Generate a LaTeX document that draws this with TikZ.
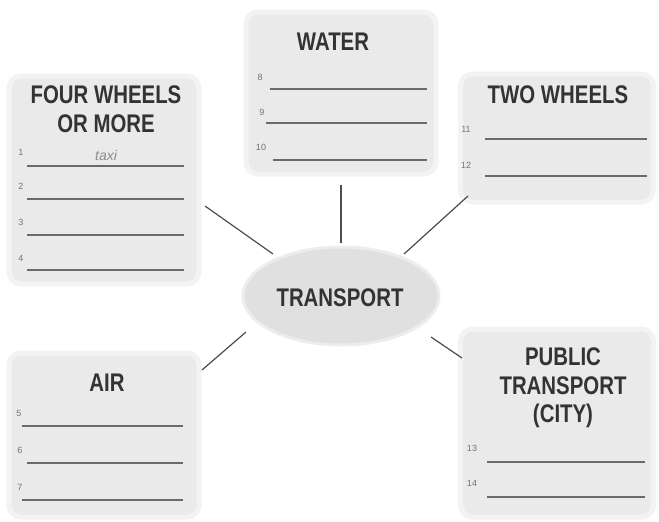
\documentclass[tikz,border=0pt]{standalone}
\usepackage{fontspec}
\setmainfont{Liberation Sans}
\newfontfamily\ttlfont[FakeStretch=0.8]{Liberation Sans}
\usetikzlibrary{shapes.geometric}
\definecolor{boxfill}{HTML}{EAEAEA}
\definecolor{boxedge}{HTML}{F3F3F3}
\definecolor{ink}{HTML}{333333}
\definecolor{ruleink}{HTML}{6A6A6A}
\tikzset{
  box/.style={fill=boxfill, draw=boxedge, line width=5pt, rounded corners=12pt, inner sep=0pt},
  ttl/.style={font=\ttlfont\bfseries\fontsize{25.5}{28.5}\selectfont, text=ink, align=center, inner sep=0pt},
  num/.style={font=\fontsize{9}{10}\selectfont, text=black!55, inner sep=0pt},
  rulel/.style={draw=ruleink, line width=1.1pt},
  conn/.style={draw=black!70, line width=1.2pt},
  hub/.style={ellipse, fill=black!12, draw=black!7, line width=3pt, minimum width=196pt, minimum height=98pt, inner sep=0pt}
}
\begin{document}
\begin{tikzpicture}[x=1pt,y=-1pt]
\useasboundingbox[fill=white] (0,0) rectangle (659,522);
% boxes
\node[box, minimum width=190pt, minimum height=208pt] (fw) at (104,180) {};
\node[box, minimum width=190pt, minimum height=162pt] (wa) at (341,93) {};
\node[box, minimum width=193pt, minimum height=128pt] (tw) at (557,138) {};
\node[box, minimum width=190pt, minimum height=164pt] (air) at (104,435) {};
\node[box, minimum width=193pt, minimum height=188pt] (pt) at (557,423) {};
\node[hub] (hub) at (341,296) {};
\node[ttl] (hubt) at (340,298) {TRANSPORT};
% titles
\node[ttl] (fwt) at (106,109) {FOUR WHEELS\\OR MORE};
\node[ttl] (wat) at (333,42) {WATER};
\node[ttl] (twt) at (558,95) {TWO WHEELS};
\node[ttl] (airt) at (107,383) {AIR};
\node[ttl] (ptt) at (563,388) {PUBLIC\\TRANSPORT\\(CITY)};
% four wheels lines
\node[num] (n1) at (21,152) {1};
\node[font=\itshape\fontsize{14}{16}\selectfont, text=black!45, inner sep=0pt] (taxi) at (106,155) {taxi};
\draw[rulel] (27,166) -- (184,166);
\node[num] (n2) at (21,186) {2};
\draw[rulel] (27,199) -- (184,199);
\node[num] (n3) at (21,222) {3};
\draw[rulel] (27,235) -- (184,235);
\node[num] (n4) at (21,258) {4};
\draw[rulel] (27,270) -- (184,270);
% water lines
\node[num] (n8) at (260,77) {8};
\draw[rulel] (270,89) -- (427,89);
\node[num] (n9) at (262,112) {9};
\draw[rulel] (266,123) -- (427,123);
\node[num] (n10) at (261,147) {10};
\draw[rulel] (273,160) -- (427,160);
% two wheels lines
\node[num] (n11) at (466,129) {11};
\draw[rulel] (485,139) -- (647,139);
\node[num] (n12) at (466,165) {12};
\draw[rulel] (485,176) -- (647,176);
% air lines
\node[num] (n5) at (19,413) {5};
\draw[rulel] (22,426) -- (183,426);
\node[num] (n6) at (20,450) {6};
\draw[rulel] (27,463) -- (183,463);
\node[num] (n7) at (20,487) {7};
\draw[rulel] (22,500) -- (183,500);
% public transport lines
\node[num] (n13) at (472,448) {13};
\draw[rulel] (487,462) -- (645,462);
\node[num] (n14) at (472,483) {14};
\draw[rulel] (487,497) -- (645,497);
% connectors
\coordinate (c1a) at (205,206);
\coordinate (c1b) at (273,254);
\coordinate (c2a) at (341,185);
\coordinate (c2b) at (341,243);
\coordinate (c3a) at (468,196);
\coordinate (c3b) at (404,254);
\coordinate (c4a) at (202,370);
\coordinate (c4b) at (246,332);
\coordinate (c5a) at (431,337);
\coordinate (c5b) at (462,358);
\draw[conn] (c1a) -- (c1b);
\draw[conn] (c2a) -- (c2b);
\draw[conn] (c3a) -- (c3b);
\draw[conn] (c4a) -- (c4b);
\draw[conn] (c5a) -- (c5b);
\end{tikzpicture}
\end{document}
